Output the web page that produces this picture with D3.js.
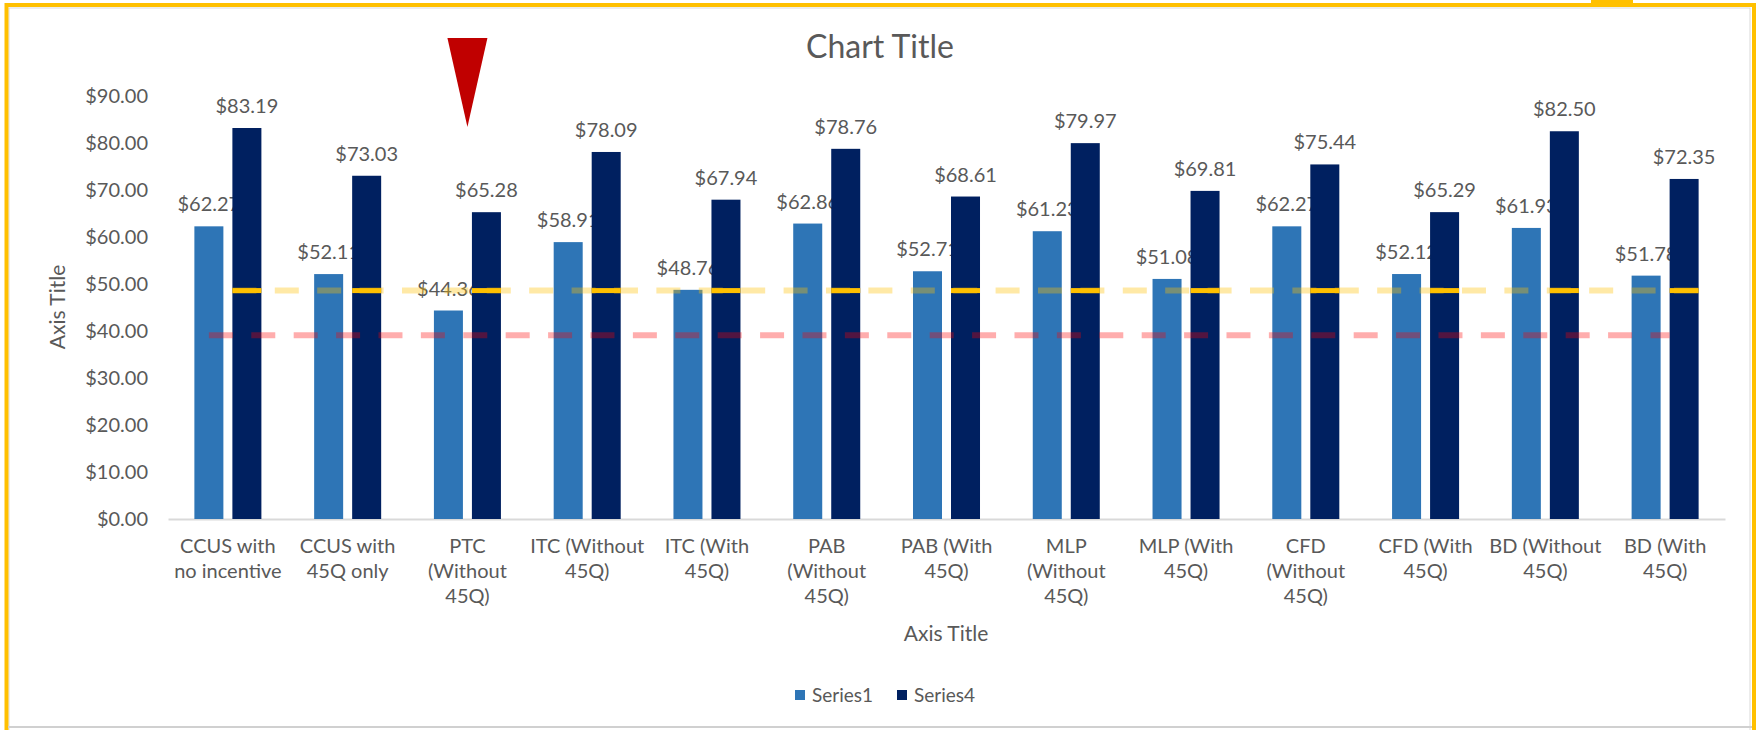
<!DOCTYPE html>
<html>
<head>
<meta charset="utf-8">
<script src="https://cdn.jsdelivr.net/npm/d3@7"></script>
<style>
  html, body { margin: 0; padding: 0; background: #ffffff; }
  svg { display: block; font-family: Lato, "Open Sans", sans-serif; }
</style>
</head>
<body>
<svg id="chart" width="1759" height="730"></svg>
<script>
// Categories along the x axis
const categories = [
  "CCUS with no incentive", "CCUS with 45Q only", "PTC (Without 45Q)",
  "ITC (Without 45Q)", "ITC (With 45Q)", "PAB (Without 45Q)", "PAB (With 45Q)",
  "MLP (Without 45Q)", "MLP (With 45Q)", "CFD (Without 45Q)", "CFD (With 45Q)",
  "BD (Without 45Q)", "BD (With 45Q)"
];
const seriesNames = ["Series1", "Series4"];
const series1 = [62.27, 52.11, 44.36, 58.91, 48.76, 62.86, 52.71, 61.23, 51.08, 62.27, 52.12, 61.93, 51.78];
const series4 = [83.19, 73.03, 65.28, 78.09, 67.94, 78.76, 68.61, 79.97, 69.81, 75.44, 65.29, 82.50, 72.35];
const yTicks = [0, 10, 20, 30, 40, 50, 60, 70, 80, 90];
// Reference levels drawn as dashed lines
const goldLevel = 48.6;
const redLevel = 39.1;

const colors = { Series1: "#2E75B6", Series4: "#002060" };
const textColor = "#595959";
const fmt = d3.format("$.2f");

const svg = d3.select("#chart");

// Chart frame
svg.append("rect").attr("x", 9).attr("y", 8).attr("width", 1741).attr("height", 740)
  .attr("fill", "#ffffff").attr("stroke", "#d9d9d9").attr("stroke-width", 1);
svg.append("rect").attr("x", 6.5).attr("y", 5).attr("width", 1747.5).attr("height", 760)
  .attr("fill", "none").attr("stroke", "#FFC000").attr("stroke-width", 4);
svg.append("line").attr("x1", 8).attr("x2", 1752).attr("y1", 727).attr("y2", 727)
  .attr("stroke", "#d0d0d0").attr("stroke-width", 2);
svg.append("rect").attr("x", 1591).attr("y", 0).attr("width", 42).attr("height", 3).attr("fill", "#FFC000");

// Scales
const x = d3.scaleBand().domain(categories).range([168, 1725]).padding(0);
const x1 = d3.scaleBand().domain(seriesNames).range([0, x.bandwidth()])
  .paddingInner(9 / 38).paddingOuter(0.694);
const y = d3.scaleLinear().domain([0, 90]).range([519, 96]);

// Title
svg.append("text").attr("x", 880).attr("y", 58).attr("text-anchor", "middle")
  .attr("font-size", 32).attr("fill", textColor).text("Chart Title");

// Y axis (labels only)
const yAxis = d3.axisLeft(y).tickValues(yTicks).tickFormat(fmt).tickSize(0).tickPadding(0);
const gy = svg.append("g").attr("transform", "translate(148,0)").call(yAxis);
gy.select(".domain").remove();
gy.selectAll("text").attr("font-size", 20).attr("fill", textColor)
  .attr("font-family", "Lato, sans-serif");

// X axis baseline and wrapped category labels
const xAxis = d3.axisBottom(x).tickSize(0).tickPadding(0);
const gx = svg.append("g").attr("transform", `translate(0,${y(0)})`).call(xAxis);
gx.select(".domain").attr("stroke", "#d9d9d9").attr("stroke-width", 2);
gx.selectAll("text").attr("font-size", 20).attr("fill", textColor)
  .attr("font-family", "Lato, sans-serif").attr("y", 34).attr("dy", 0)
  .each(function(d) { wrap(d3.select(this), d, x.step() - 4); });

function wrap(textSel, str, width) {
  const words = str.split(" ");
  textSel.text(null);
  let line = [];
  let tspan = textSel.append("tspan").attr("x", 0).attr("dy", 0);
  words.forEach(w => {
    line.push(w);
    tspan.text(line.join(" "));
    if (tspan.node().getComputedTextLength() > width && line.length > 1) {
      line.pop();
      tspan.text(line.join(" "));
      line = [w];
      tspan = textSel.append("tspan").attr("x", 0).attr("dy", 25).text(w);
    }
  });
}

// Axis titles
svg.append("text").attr("x", 946).attr("y", 641).attr("text-anchor", "middle")
  .attr("font-size", 21).attr("fill", textColor).text("Axis Title");
svg.append("text").attr("transform", "translate(65,307) rotate(-90)").attr("text-anchor", "middle")
  .attr("font-size", 21).attr("fill", textColor).text("Axis Title");

// Bars and value labels, one series at a time so later bars sit over earlier labels
const seriesData = { Series1: series1, Series4: series4 };
seriesNames.forEach(name => {
  const rows = categories.map((c, i) => ({ c, v: seriesData[name][i] }));
  const g = svg.append("g").attr("class", "series-" + name);
  g.selectAll("rect").data(rows).join("rect")
    .attr("x", d => x(d.c) + x1(name))
    .attr("y", d => y(d.v))
    .attr("width", x1.bandwidth())
    .attr("height", d => y(0) - y(d.v))
    .attr("fill", colors[name]);
  g.selectAll("text").data(rows).join("text")
    .attr("x", d => x(d.c) + x1(name) + x1.bandwidth() / 2)
    .attr("y", d => y(d.v) - 15)
    .attr("text-anchor", "middle")
    .attr("font-size", 20)
    .attr("fill", textColor)
    .text(d => fmt(d.v));
});

// Dashed reference lines
const first = categories[0], last = categories[categories.length - 1];
svg.append("line")
  .attr("x1", x(first) + x1("Series4")).attr("x2", x(last) + x1("Series4") + x1.bandwidth())
  .attr("y1", y(goldLevel)).attr("y2", y(goldLevel))
  .attr("stroke", "#FFC000").attr("stroke-opacity", 0.35).attr("stroke-width", 6)
  .attr("stroke-dasharray", "24 18.4");
svg.append("g").selectAll("line").data(categories).join("line")
  .attr("x1", d => x(d) + x1("Series4")).attr("x2", d => x(d) + x1("Series4") + x1.bandwidth())
  .attr("y1", y(goldLevel)).attr("y2", y(goldLevel))
  .attr("stroke", "#FFC000").attr("stroke-width", 5);
svg.append("line")
  .attr("x1", x(first) + x1("Series1") + x1.bandwidth() / 2).attr("x2", x(last) + x1("Series4"))
  .attr("y1", y(redLevel)).attr("y2", y(redLevel))
  .attr("stroke", "#FF0000").attr("stroke-opacity", 0.32).attr("stroke-width", 6)
  .attr("stroke-dasharray", "24 18.4");

// Red pointer marker above the PTC group
const tip = x(categories[2]) + x.bandwidth() / 2;
svg.append("path")
  .attr("d", `M${tip - 20},38 L${tip + 20},38 L${tip},127 Z`)
  .attr("fill", "#C00000");

// Legend
const legend = svg.append("g").attr("transform", "translate(795,695)");
const legendX = [0, 102];
seriesNames.forEach((name, i) => {
  const item = legend.append("g").attr("transform", `translate(${legendX[i]},0)`);
  item.append("rect").attr("x", 0).attr("y", -5).attr("width", 10).attr("height", 10).attr("fill", colors[name]);
  item.append("text").attr("x", 17).attr("y", 0).attr("dy", "0.35em")
    .attr("font-size", 19).attr("fill", textColor).text(name);
});
</script>
</body>
</html>
